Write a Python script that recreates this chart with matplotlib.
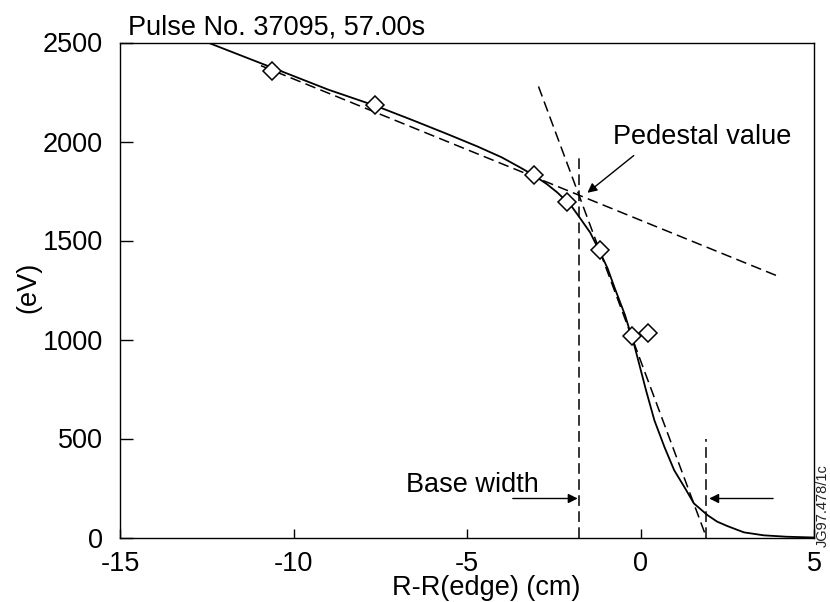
import matplotlib
matplotlib.use("Agg")
import matplotlib.pyplot as plt

plt.rcParams['font.family'] = ['Liberation Sans', 'DejaVu Sans']
plt.rcParams['axes.unicode_minus'] = False

# ---- data ----
meas_x = [-10.61, -7.64, -3.08, -2.13, -1.18, -0.25, 0.21]
meas_y = [2358, 2185, 1829, 1696, 1453, 1016, 1035]

fit_x = [-12.4, -10.6, -9.0, -7.6, -6.6, -5.6, -4.7, -4.0, -3.5, -3.1, -2.7, -2.4,
         -2.0, -1.75, -1.45, -1.2, -0.95, -0.75, -0.45, -0.17, 0.16, 0.40, 0.69,
         0.97, 1.26, 1.54, 1.93, 2.21, 2.50, 2.98, 3.55, 4.20, 5.0]
fit_y = [2495, 2372, 2262, 2178, 2110, 2040, 1975, 1920, 1872, 1832, 1785, 1743,
         1676, 1615, 1540, 1453, 1360, 1263, 1125, 965, 743, 592, 457,
         340, 256, 172, 113, 80, 58, 26, 11, 4, 0]

core_line_x = [-10.94, 3.93]
core_line_y = [2383, 1322]
grad_line_x = [-2.94, 1.90]
grad_line_y = [2278, 0]
base_left_x = [-1.77, -1.77]
base_left_y = [0, 1941]
base_right_x = [1.885, 1.885]
base_right_y = [0, 500]

xticks = [-15, -10, -5, 0, 5]
yticks = [0, 500, 1000, 1500, 2000, 2500]

FS = 19.5
W, H = 830, 602
fig = plt.figure(figsize=(W / 100, H / 100), dpi=100)
ax = fig.add_axes([120 / W, 1 - 537.5 / H, (814 - 120) / W, (537.5 - 42.5) / H])

dash = (7, 3.5)
ax.plot(fit_x, fit_y, color='black', lw=1.3, clip_on=True)
for lx, ly in [(core_line_x, core_line_y), (grad_line_x, grad_line_y),
               (base_left_x, base_left_y), (base_right_x, base_right_y)]:
    ax.plot(lx, ly, color='black', lw=1.1, dashes=dash)
ax.plot(meas_x, meas_y, linestyle='none', marker='D', markersize=8.8,
        markerfacecolor='white', markeredgecolor='black', markeredgewidth=1.1)

ax.set_xlim(-15, 5)
ax.set_ylim(0, 2500)
ax.set_xticks(xticks)
ax.set_yticks(yticks)
ax.tick_params(axis='both', direction='in', labelsize=FS, width=1.0, color='black')
ax.tick_params(axis='x', length=6.5, pad=9.8)
ax.tick_params(axis='y', length=9, pad=12.2)
for s in ax.spines.values():
    s.set_linewidth(1.0)

arrow = dict(arrowstyle='-|>', color='black', lw=1.0, mutation_scale=14,
             shrinkA=0, shrinkB=0)
ax.annotate('', xy=(-1.53, 1741), xytext=(-0.195, 1929), arrowprops=arrow)
ax.annotate('', xy=(-1.81, 197), xytext=(-3.68, 197), arrowprops=arrow)
ax.annotate('', xy=(1.98, 197), xytext=(3.82, 197), arrowprops=arrow)

ax.text(-0.79, 1988, 'Pedestal value', fontsize=FS, ha='left', va='baseline')
ax.text(-2.92, 231, 'Base width', fontsize=FS, ha='right', va='baseline')

fig.text(128 / W, 1 - 34.3 / H, 'Pulse No. 37095, 57.00s', fontsize=FS,
         ha='left', va='baseline')
fig.text(486 / W, 7 / H, 'R-R(edge) (cm)', fontsize=FS, ha='center', va='baseline')
fig.text(28 / W, 1 - 287 / H, '(eV)', fontsize=FS, rotation=90, ha='center', va='center')
fig.text(822.5 / W, 1 - 547 / H, 'JG97.478/1c', fontsize=10.5, rotation=90,
         ha='center', va='bottom', color='#222222')

fig.savefig('out.png', dpi=100)
